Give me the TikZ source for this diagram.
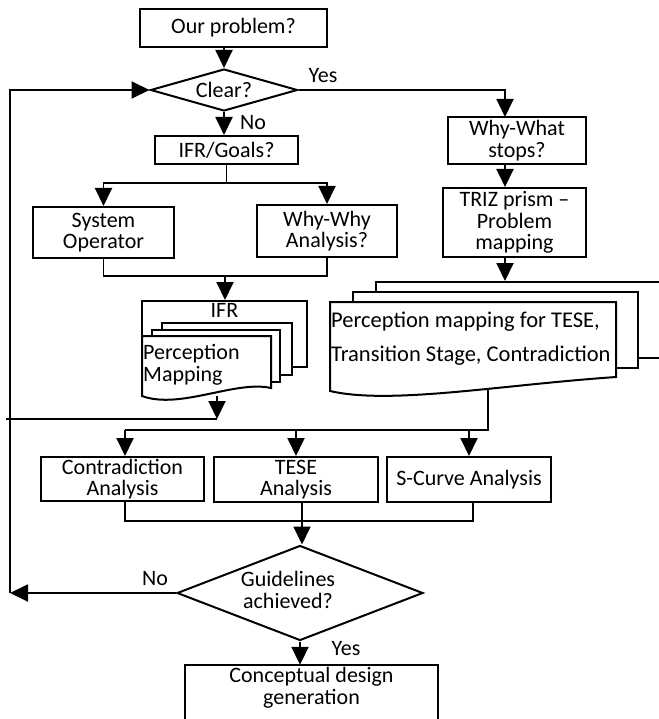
\documentclass[tikz,border=0pt]{standalone}
\usepackage{fontspec}
\setmainfont{Carlito}
\usetikzlibrary{shapes.geometric, arrows.meta}

\tikzset{
  box/.style={draw, fill=white, line width=2pt, inner sep=0pt, align=center},
  dec/.style={draw, diamond, fill=white, line width=2pt, inner sep=0pt},
  card/.style={draw, fill=white, line width=2pt, inner sep=0pt},
  line/.style={line width=1.9pt},
  arr/.style={line width=1.9pt, -{Triangle[length=18pt, width=17pt]}},
}

\begin{document}
\begin{tikzpicture}[x=1pt, y=-1pt, font=\fontsize{22}{21.5}\selectfont]
  \useasboundingbox (0,0) rectangle (658,719);
  % Boxes and decisions
  \node[box, minimum width=187pt, minimum height=38pt] (prob) at (233.5,28) {Our problem?};
  \node[dec, aspect=3.5, minimum width=147pt, minimum height=42pt] (clear) at (224,90) {Clear?};
  \node[box, minimum width=143pt, minimum height=28pt] (goals) at (226.5,150) {IFR/Goals?};
  \node[box, minimum width=141pt, minimum height=51pt] (sysop) at (103.5,232.5) {System\\Operator};
  \node[box, minimum width=140pt, minimum height=52pt] (whywhy) at (327,231) {Why-Why\\Analysis?};
  \node[box, minimum width=138pt, minimum height=47pt] (whywhat) at (517,140.5) {Why-What\\stops?};
  \node[box, minimum width=143pt, minimum height=69pt] (triz) at (514.5,222.5) {TRIZ prism –\\Problem\\mapping};

  % IFR document stack
  \node[card, minimum width=165pt, minimum height=66pt,
        label={[anchor=north, inner sep=3pt]north:IFR}] (ifrback) at (224.5,334) {};
  \node[card, minimum width=130pt, minimum height=52pt] (ifrmid) at (227,349) {};
  \node[card, minimum width=128pt, minimum height=52pt] (ifrmid2) at (216,356) {};
  \draw[card] (142,336) -- (271,336) -- (271,388) .. controls (235,380) and (180,410) .. (142,396) -- cycle;
  \node[anchor=west, align=left, inner sep=0pt] (ifrtext) at (143,365) {Perception\\Mapping};

  % Perception mapping document stack
  \node[card, minimum width=324pt, minimum height=76pt] (pmback) at (538,320) {};
  \node[card, minimum width=285pt, minimum height=76pt] (pmmid) at (495.5,330) {};
  \draw[card] (330,302) -- (616,302) -- (616,377) .. controls (500,385) and (390,405) .. (330,391) -- cycle;
  \node[anchor=west, align=left, inner sep=0pt, font=\fontsize{22.5}{34}\selectfont] (pmtext) at (331,339)
    {Perception mapping for TESE,\\Transition Stage, Contradiction};

  \node[box, minimum width=163pt, minimum height=44pt] (contra) at (122.5,479) {Contradiction\\Analysis};
  \node[box, minimum width=164pt, minimum height=45pt] (tese) at (296,479.5) {TESE\\Analysis};
  \node[box, minimum width=164pt, minimum height=45pt] (scurve) at (469,479.5) {S-Curve Analysis};
  \node[dec, aspect=2.6, minimum width=246pt, minimum height=95pt] (guide) at (300,593) {};
  \node[align=center, inner sep=0pt] (guidetext) at (288,590) {Guidelines\\achieved?};
  \node[align=center, inner sep=0pt, minimum width=253pt, minimum height=45pt] (concept) at (311.5,687.5)
    {Conceptual design\\generation};

  % Bend points
  \coordinate (ynorth) at (505,117);
  \coordinate (split) at (226.5,183);
  \coordinate (join) at (225,276);
  \coordinate (ifrout) at (217,396);
  \coordinate (ifrend) at (217,419);
  \coordinate (stub) at (6,419);
  \coordinate (pmout) at (488,389);
  \coordinate (distl) at (125,430);
  \coordinate (merge) at (302,521);
  \coordinate (merger) at (473,521);
  \coordinate (loopb) at (10,593);
  \coordinate (loopt) at (10,90);
  \coordinate (bottom) at (0,719);

  % Connectors
  \draw[arr] (clear.north |- prob.south) -- (clear.north);
  \draw[arr] (clear.east) -| (ynorth);
  \draw[arr] (ynorth |- whywhat.south) -- (ynorth |- triz.north);
  \draw[arr] (ynorth |- triz.south) -- (ynorth |- pmback.north);
  \draw[arr] (clear.south) -- (clear.south |- goals.north);
  \draw[line] (goals.south) -- (split);
  \draw[arr] (split) -| (sysop.north);
  \draw[arr] (split) -| (whywhy.north);
  \draw[line] (sysop.south) |- (join) -| (whywhy.south);
  \draw[arr] (join) -- (join |- ifrback.north);
  \draw[arr] (ifrout) -- (ifrend);
  \draw[line] (stub) -- (ifrend);
  \draw[line] (pmout) |- (distl);
  \draw[arr] (distl) -- (distl |- contra.north);
  \draw[arr] (tese.north |- distl) -- (tese.north);
  \draw[arr] (scurve.north |- distl) -- (scurve.north);
  \draw[line] (distl |- contra.south) |- (merger) -- (merger |- scurve.south);
  \draw[arr] (merge |- tese.south) -- (merge |- guide.north);
  \draw[arr] (guide.west) -- (loopb);
  \draw[arr] (loopb) -- (loopt) -- (clear.west);
  \draw[arr] (guide.south) -- (guide.south |- concept.north);
  \draw[line width=2pt] (concept.north west |- bottom) -- (concept.north west)
    -- (concept.north east) -- (concept.north east |- bottom);

  % Branch labels
  \node (yes1) at (323,76) {Yes};
  \node (no1) at (253,123) {No};
  \node (no2) at (155,579) {No};
  \node (yes2) at (346,649) {Yes};
\end{tikzpicture}
\end{document}
